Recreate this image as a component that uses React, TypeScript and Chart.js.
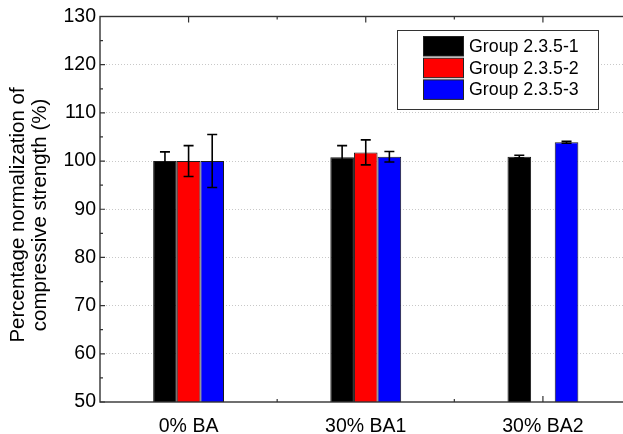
import React, { useEffect, useRef } from "react";
import { Chart, registerables } from "chart.js";

Chart.register(...registerables);

const categories = ["0% BA", "30% BA1", "30% BA2"];
const seriesNames = ["Group 2.3.5-1", "Group 2.3.5-2", "Group 2.3.5-3"];
const group1Values = [100, 100.8, 100.9];
const group1Errors = [1.9, 2.4, 0.3];
const group2Values = [100, 101.8, null];
const group2Errors = [3.2, 2.6, null];
const group3Values = [100, 100.9, 103.9];
const group3Errors = [5.5, 1.1, 0.2];
const seriesColors = ["#000000", "#ff0000", "#0000ff"];
const yMin = 50;
const yMax = 130;
const yStep = 10;
const yTitle = ["Percentage normalization of  ", "compressive strength (%)  "];

const FONT = "'Liberation Sans', Arial, sans-serif";
const errorSets = [group1Errors, group2Errors, group3Errors];

const ticksPlugin = {
  id: "inwardTicks",
  beforeDatasetsDraw(chart: any) {
    const { ctx, chartArea } = chart;
    const y = chart.scales.y;
    const x = chart.scales.x;
    ctx.save();
    ctx.strokeStyle = "#333";
    ctx.lineWidth = 1.2;
    ctx.beginPath();
    for (let v = yMin; v <= yMax; v += yStep / 2) {
      const py = y.getPixelForValue(v);
      const len = (v - yMin) % yStep === 0 ? 5 : 3;
      ctx.moveTo(chartArea.left, py);
      ctx.lineTo(chartArea.left + len, py);
      ctx.moveTo(chartArea.right, py);
      ctx.lineTo(chartArea.right - len, py);
    }
    const n = categories.length;
    for (let i = 0; i < n; i++) {
      const px = x.getPixelForValue(i);
      ctx.moveTo(px, chartArea.bottom);
      ctx.lineTo(px, chartArea.bottom - 6);
      ctx.moveTo(px, chartArea.top);
      ctx.lineTo(px, chartArea.top + 6);
      if (i < n - 1) {
        const mx = (px + x.getPixelForValue(i + 1)) / 2;
        ctx.moveTo(mx, chartArea.bottom);
        ctx.lineTo(mx, chartArea.bottom - 3);
        ctx.moveTo(mx, chartArea.top);
        ctx.lineTo(mx, chartArea.top + 3);
      }
    }
    ctx.stroke();
    ctx.restore();
  },
};

const errorPlugin = {
  id: "errorBarsAndFrame",
  afterDatasetsDraw(chart: any) {
    const { ctx, chartArea } = chart;
    const y = chart.scales.y;
    ctx.save();
    ctx.strokeStyle = "#000";
    ctx.lineWidth = 1.6;
    chart.data.datasets.forEach((ds: any, di: number) => {
      const meta = chart.getDatasetMeta(di);
      meta.data.forEach((el: any, j: number) => {
        const v = ds.data[j];
        const e = errorSets[di][j];
        if (v == null || e == null) return;
        const top = y.getPixelForValue(v + e);
        const bot = y.getPixelForValue(v - e);
        const cx = el.x;
        ctx.beginPath();
        ctx.moveTo(cx, top);
        ctx.lineTo(cx, bot);
        ctx.moveTo(cx - 5, top);
        ctx.lineTo(cx + 5, top);
        ctx.moveTo(cx - 5, bot);
        ctx.lineTo(cx + 5, bot);
        ctx.stroke();
      });
    });
    ctx.strokeStyle = "#333";
    ctx.lineWidth = 1.4;
    ctx.strokeRect(chartArea.left, chartArea.top, chartArea.right - chartArea.left, chartArea.bottom - chartArea.top);
    ctx.restore();
  },
  afterDraw(chart: any) {
    const { ctx } = chart;
    ctx.save();
    const bx = 397.5, by = 30.5, bw = 201, bh = 79;
    ctx.fillStyle = "#fff";
    ctx.fillRect(bx, by, bw, bh);
    ctx.strokeStyle = "#333";
    ctx.lineWidth = 1;
    ctx.strokeRect(bx, by, bw, bh);
    ctx.font = `17.8px ${FONT}`;
    ctx.textBaseline = "middle";
    ctx.textAlign = "left";
    seriesNames.forEach((name, i) => {
      const sy = 36.5 + i * 21.7;
      ctx.fillStyle = seriesColors[i];
      ctx.fillRect(423.5, sy, 40, 19.5);
      ctx.strokeStyle = "#222";
      ctx.strokeRect(423.5, sy, 40, 19.5);
      ctx.fillStyle = "#000";
      ctx.fillText(name, 469, sy + 10.5);
    });
    ctx.restore();
  },
};

export default function App() {
  const ref = useRef<HTMLCanvasElement | null>(null);
  useEffect(() => {
    if (!ref.current) return;
    const values = [group1Values, group2Values, group3Values];
    const chart = new Chart(ref.current, {
      type: "bar",
      data: {
        labels: categories,
        datasets: seriesNames.map((name, i) => ({
          label: name,
          data: values[i] as any,
          backgroundColor: seriesColors[i],
          borderColor: "#1a1a1a",
          borderWidth: 1,
          categoryPercentage: 0.4,
          barPercentage: 1,
        })),
      },
      options: {
        animation: false,
        responsive: false,
        maintainAspectRatio: false,
        devicePixelRatio: 1,
        layout: { padding: { top: 16.5, right: 8.5, left: 0, bottom: 0 } },
        plugins: { legend: { display: false }, tooltip: { enabled: false } },
        scales: {
          x: {
            grid: { display: false, drawTicks: false },
            border: { display: false },
            ticks: { font: { size: 19.5, family: FONT }, color: "#000", padding: 13 },
            afterFit: (s: any) => { s.height = 32; },
          },
          y: {
            min: yMin,
            max: yMax,
            ticks: { stepSize: yStep, font: { size: 19.5, family: FONT }, color: "#000", padding: 4 },
            grid: {
              drawTicks: false,
              lineWidth: 1,
              color: (c: any) => (c.tick && (c.tick.value === yMin || c.tick.value === yMax) ? "rgba(0,0,0,0)" : "#c8c8c8"),
            },
            border: { display: false, dash: [1, 2] },
            title: { display: true, text: yTitle, font: { size: 20.5, family: FONT, lineHeight: 1.07 }, color: "#000", padding: { top: 7, bottom: 0 } },
            afterFit: (s: any) => { s.width = 100; },
          },
        },
      },
      plugins: [ticksPlugin, errorPlugin],
    });
    return () => chart.destroy();
  }, []);
  return (
    <div style={{ position: "fixed", left: 0, top: 0, width: 623, height: 434, overflow: "hidden", background: "#fff" }}>
      <canvas ref={ref} width={640} height={434} style={{ width: 640, height: 434, display: "block" }} />
    </div>
  );
}
